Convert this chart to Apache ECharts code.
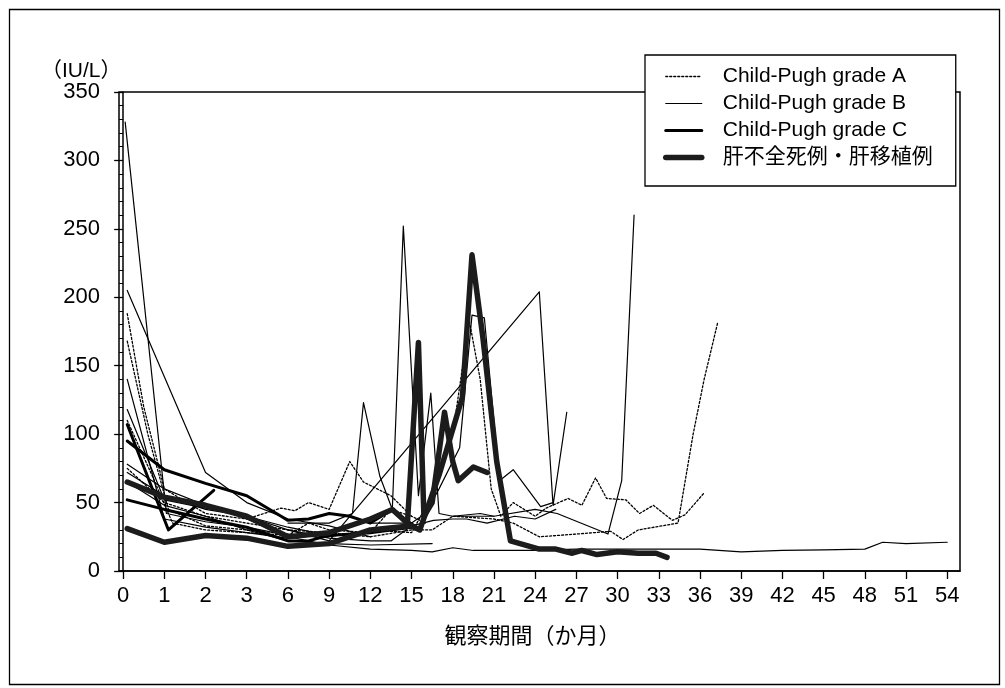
<!DOCTYPE html>
<html>
<head>
<meta charset="utf-8">
<script src="https://cdn.jsdelivr.net/npm/echarts@6/dist/echarts.min.js"></script>
<style>html,body{margin:0;padding:0;background:#fff}#c{width:1005px;height:688px}</style>
</head>
<body>
<div id="c"></div>
<script>
// ---- tick labels (months); the axis is drawn at equal spacing per label ----
const X_TICK_LABELS = ['0','1','2','3','6','9','12','15','18','21','24','27','30','33','36','39','42','45','48','51','54'];
const SERIES_NAMES = ['Child-Pugh grade A','Child-Pugh grade B','Child-Pugh grade C','肝不全死例・肝移植例'];

// ---- data: [month, ALT (IU/L)] ----
const gradeA1 = [[0.1,188],[0.5,120],[1,60],[2,42],[3,38],[5.5,46],[6.5,44],[7.5,50],[9,45],[10.5,80],[11.5,65],[12.5,60],[13.5,55],[15,40],[16,35]];
const gradeA2 = [[0.1,168],[0.6,100],[1.1,45],[2,33],[3,30],[6,27],[9,25],[12,30],[15,28],[16.5,55],[18,100],[19.2,183],[20,140],[20.8,60],[21.5,40],[22.4,50],[24,40],[24.8,46],[26.4,53],[27.4,48],[28.4,68],[29.2,53],[30.6,52],[31.6,42],[32.6,48],[34,37],[34.9,41],[36.3,57]];
const gradeA3 = [[0.1,75],[1,50],[2,40],[3,35],[6,30],[9,28],[12,25],[15,30],[16.5,30],[18,40],[21,38],[22.4,35],[24.3,25],[27,27],[29.5,29],[30.4,23],[31.5,30],[34.4,35],[35.5,100],[36.3,140],[37.3,182]];
const gradeA4 = [[0.1,110],[0.7,70],[1.2,35],[2,30],[3,28],[6,26],[7.5,35],[9,30],[12,28],[13.5,45],[15,40]];

const gradeB1 = [[0.05,328],[1.05,42],[2,36],[3,32],[6,26]];
const gradeB2 = [[0.1,205],[2,72],[3,50],[6,38],[9,33],[12,25]];
const gradeB3 = [[0.1,140],[1,38],[2,32],[3,28],[6,24]];
const gradeB4 = [[0.1,118],[1,52],[2,46],[3,40],[6,32],[9,26]];
const gradeB5 = [[0.1,78],[1,60],[2,48],[3,38],[6,25],[9,19],[12,16],[15,15],[16.5,14],[18,17],[19.5,15],[21,15],[24,15],[27,16],[30,16],[33,16],[36,16],[39,14],[42,15],[45,15.5],[48,16],[49.3,21],[51,20],[54,21]];
const gradeB6 = [[6,30],[9,22],[24.3,204],[25.3,48],[26.3,116]];
const gradeB7 = [[6,35],[9,35],[10.7,42],[11.5,123],[12.7,69],[13.6,45],[14.4,252],[15.5,55],[16.4,130],[17,42],[18,40],[20,42],[21,40]];
const gradeB8 = [[12,35],[15,35],[16,42],[17,60],[18.5,90],[19.4,187],[20.3,185],[21.4,66],[22.4,74],[24.4,47],[25.3,50]];
const gradeB9 = [[18,40],[21,40],[24,45],[25.6,42],[29.3,27],[30.3,66],[31.2,260]];
const gradeB10 = [[0.1,72],[1,55],[2,45],[3,40],[6,30],[9,24],[12,22],[13.5,22],[15,33],[16.6,37],[18,38],[19,38],[20.5,35],[22.5,40],[24,38],[25.5,45]];
const gradeB11 = [[0.1,65],[1,48],[2,40],[3,30],[6,22],[9,20],[12,19],[16.5,20]];

const gradeC1 = [[0.1,95],[1,74],[2,64],[3,55],[5.5,40],[6,37],[7.5,38],[9,42],[10.5,40],[12,35],[13.6,45],[14.6,37],[15.5,31]];
const gradeC2 = [[0.1,107],[1.1,30],[2.2,59]];
const gradeC3 = [[0.1,52],[1,45],[2,38],[3,32],[6,22],[7.5,22],[9,26],[12,28],[15,32]];

const failure1 = [[0.1,65],[1,54],[2,48],[3,40],[6,25],[9,28],[12,38],[13.6,45],[14.7,35],[15.5,167],[15.9,40],[16.5,50],[17.4,116],[18,80],[18.4,66],[19.5,76],[20.5,72]];
const failure2 = [[0.1,31],[1,21],[2,26],[3,24],[6,18],[9,20],[12,30],[15,33],[15.6,30],[17,70],[18.7,127],[19.4,231],[20.2,170],[21.2,80],[22.2,22],[24.3,16],[25.5,16],[26.7,13],[27.4,15],[28.5,12],[30,14],[31.5,13],[32.8,13],[33.6,10]];

// months -> axis position (labels 0,1,2,3 then every 3 months, equally spaced)
function monthToPos(m){ return m <= 3 ? m : 3 + (m - 3) / 3; }
function toPos(arr){ return arr.map(p => [monthToPos(p[0]), p[1]]); }

const FONT = '"Liberation Sans", Arial, "Noto Sans CJK JP", sans-serif';

const groups = [
  {name: SERIES_NAMES[0], list: [gradeA1, gradeA2, gradeA3, gradeA4], line: {color:'#000', width:1.3, type:[2,2]}},
  {name: SERIES_NAMES[1], list: [gradeB1, gradeB2, gradeB3, gradeB4, gradeB5, gradeB6, gradeB7, gradeB8, gradeB9, gradeB10, gradeB11], line: {color:'#000', width:1.2, type:'solid'}},
  {name: SERIES_NAMES[2], list: [gradeC1, gradeC2, gradeC3], line: {color:'#000', width:3, type:'solid'}},
  {name: SERIES_NAMES[3], list: [failure1, failure2], line: {color:'#1c1c1c', width:5.5, type:'solid'}}
];

const series = [];
groups.forEach(g => {
  g.list.forEach(d => {
    series.push({
      name: g.name, type: 'line', data: toPos(d), symbol: 'none', showSymbol: false,
      lineStyle: Object.assign({cap:'round', join:'round'}, g.line),
      itemStyle: {color: g.line.color},
      silent: true, animation: false
    });
  });
});

const chart = echarts.init(document.getElementById('c'), null, {renderer: 'canvas'});
chart.setOption({
  backgroundColor: '#fff',
  animation: false,
  title: {text: '（IU/L）', left: 36, top: 56, textStyle: {fontSize: 21, fontWeight: 'normal', color: '#000', fontFamily: FONT}},
  grid: {left: 119, right: 45, top: 92, bottom: 117, show: true, borderColor: '#000', borderWidth: 1.5, backgroundColor: 'transparent'},
  legend: {
    data: SERIES_NAMES,
    orient: 'vertical', left: 645, top: 55,
    backgroundColor: '#fff', borderColor: '#000', borderWidth: 1.3,
    padding: [11, 23, 18, 18],
    itemWidth: 36, itemHeight: 12, itemGap: 6,
    selectedMode: false,
    itemStyle: {opacity: 0, color: 'transparent', borderWidth: 0},
    lineStyle: {width: 'inherit', type: 'inherit', color: 'inherit'},
    textStyle: {fontSize: 21, lineHeight: 19, color: '#000', fontFamily: FONT, padding: [0,0,0,16]}
  },
  xAxis: {
    type: 'value', min: -0.1, max: 20.31,
    axisLine: {show: true, lineStyle: {color: '#000', width: 1.5}},
    axisTick: {show: true, length: 8, lineStyle: {color: '#000', width: 1.3}, customValues: X_TICK_LABELS.map((_, i) => i)},
    axisLabel: {customValues: X_TICK_LABELS.map((_, i) => i), formatter: v => X_TICK_LABELS[Math.round(v)], fontSize: 22, color: '#000', fontFamily: FONT, margin: 14},
    splitLine: {show: false},
    name: '観察期間（か月）', nameLocation: 'middle', nameGap: 55,
    nameTextStyle: {fontSize: 22, color: '#000', fontFamily: FONT, padding: [0, 14, 0, 0]}
  },
  yAxis: {
    type: 'value', min: 0, max: 350, interval: 50,
    axisLine: {show: true, lineStyle: {color: '#000', width: 1.5}},
    axisTick: {show: true, length: 9, lineStyle: {color: '#000', width: 1.3}},
    minorTick: {show: true, splitNumber: 5, length: 4, lineStyle: {color: '#000', width: 1}},
    axisLabel: {fontSize: 22, color: '#000', fontFamily: FONT, margin: 19},
    splitLine: {show: false}
  },
  graphic: [{type: 'rect', left: 7, top: 7, shape: {width: 990, height: 675}, style: {fill: 'none', stroke: '#000', lineWidth: 1.3}, silent: true, z: -1}],
  series: series
});
</script>
</body>
</html>
